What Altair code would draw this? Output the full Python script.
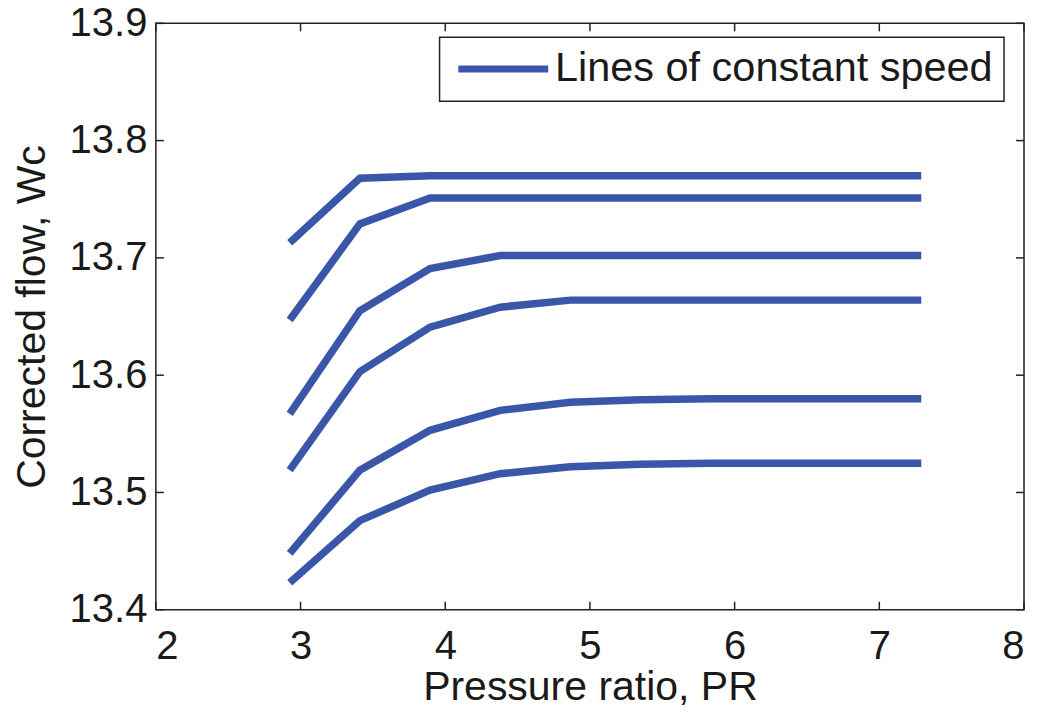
import altair as alt
import pandas as pd

# Pressure ratio sample points (shared by all speed lines)
pr = [2.925, 3.41, 3.895, 4.38, 4.865, 5.35, 5.835, 6.32, 6.805, 7.29]

# Corrected flow for each line of constant speed (top to bottom)
speed_1 = [13.713, 13.768, 13.770, 13.770, 13.770, 13.770, 13.770, 13.770, 13.770, 13.770]
speed_2 = [13.647, 13.729, 13.751, 13.751, 13.751, 13.751, 13.751, 13.751, 13.751, 13.751]
speed_3 = [13.567, 13.655, 13.691, 13.702, 13.702, 13.702, 13.702, 13.702, 13.702, 13.702]
speed_4 = [13.519, 13.603, 13.641, 13.658, 13.664, 13.664, 13.664, 13.664, 13.664, 13.664]
speed_5 = [13.448, 13.519, 13.553, 13.570, 13.577, 13.579, 13.580, 13.580, 13.580, 13.580]
speed_6 = [13.423, 13.476, 13.502, 13.516, 13.522, 13.524, 13.525, 13.525, 13.525, 13.525]

x_ticks = [2, 3, 4, 5, 6, 7, 8]
y_ticks = [13.4, 13.5, 13.6, 13.7, 13.8, 13.9]

series_name = "Lines of constant speed"
x_title = "Pressure ratio, PR"
y_title = "Corrected flow, Wc"
line_color = "#3A56A8"
FONT = "Liberation Sans"
W, H = 869, 587

rows = []
for i, ys in enumerate([speed_1, speed_2, speed_3, speed_4, speed_5, speed_6]):
    for x, y in zip(pr, ys):
        rows.append({"pr": x, "wc": y, "speed": i, "series": series_name})
df = pd.DataFrame(rows)

xscale = alt.Scale(domain=[2, 8], nice=False, zero=False)
yscale = alt.Scale(domain=[13.4, 13.9], nice=False, zero=False)
xaxis = alt.Axis(values=x_ticks, format="d")
yaxis = alt.Axis(values=y_ticks, format=".1f")


def X(field):
    return alt.X(field, scale=xscale, title=x_title, axis=xaxis)


def Y(field):
    return alt.Y(field, scale=yscale, title=y_title, axis=yaxis)


lines = alt.Chart(df).mark_line(strokeWidth=7.5, strokeCap="butt", strokeJoin="miter").encode(
    x=X("pr:Q"),
    y=Y("wc:Q"),
    detail="speed:N",
    color=alt.Color("series:N", scale=alt.Scale(range=[line_color]),
                    legend=alt.Legend(title=None, orient="none", legendX=284, legendY=14,
                                      symbolType="M-3,0L3,0", symbolSize=900,
                                      symbolStrokeWidth=7, symbolOffset=32,
                                      labelOffset=31, padding=11,
                                      labelFont=FONT, labelFontSize=41.5,
                                      labelColor="#1a1a1a", labelLimit=1000,
                                      strokeColor="#222222")),
)

xt = pd.DataFrame({"t": x_ticks})
yt = pd.DataFrame({"t": y_ticks})
tick_style = dict(color="#222222", strokeWidth=1.5)

x_bottom = alt.Chart(xt).mark_rule(**tick_style).encode(
    x=X("t:Q"), y=alt.value(H), y2=alt.value(H - 8))
x_top = alt.Chart(xt).mark_rule(**tick_style).encode(
    x=X("t:Q"), y=alt.value(0), y2=alt.value(8))
y_left = alt.Chart(yt).mark_rule(**tick_style).encode(
    y=Y("t:Q"), x=alt.value(0), x2=alt.value(8))
y_right = alt.Chart(yt).mark_rule(**tick_style).encode(
    y=Y("t:Q"), x=alt.value(W), x2=alt.value(W - 8))

chart = alt.layer(lines, x_bottom, x_top, y_left, y_right).properties(
    width=W, height=H,
    autosize=alt.AutoSizeParams(type="none"),
    padding={"left": 148, "top": 15, "right": 8, "bottom": 103},
).configure_view(
    stroke="#222222", strokeWidth=1.5
).configure_axis(
    ticks=False, domain=False, grid=False,
    labelFont=FONT, labelFontSize=40, labelColor="#1a1a1a",
    titleFont=FONT, titleFontSize=41, titleFontWeight="normal", titleColor="#1a1a1a",
).configure_axisX(
    labelPadding=17, titlePadding=1
).configure_axisY(
    labelPadding=9, titlePadding=16
).configure_legend(
    strokeWidth=1.5
)

chart.save("out.html", embed_options={"renderer": "svg", "actions": False})
